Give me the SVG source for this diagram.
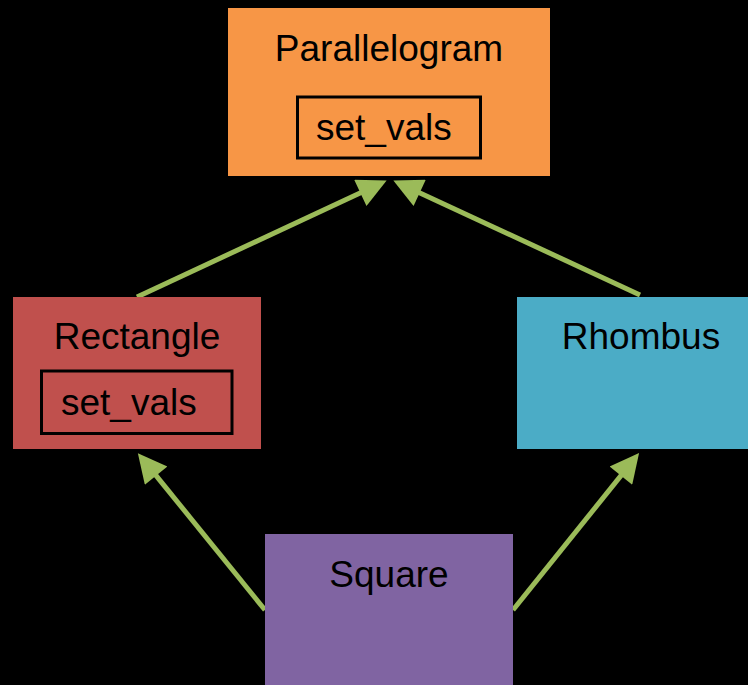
<svg xmlns="http://www.w3.org/2000/svg" width="748" height="685" viewBox="0 0 748 685">
  <style>
    .label { font-family: "Liberation Sans", Arial, sans-serif; font-size: 37px; fill: #000; }
    .member { fill: none; stroke: #000; stroke-width: 3; }
    .edge { fill: none; stroke: #9BBB59; stroke-width: 5; marker-end: url(#head); }
  </style>
  <defs>
    <marker id="head" viewBox="0 0 10 10" refX="5" refY="5" markerWidth="6.4" markerHeight="5.8" orient="auto" markerUnits="strokeWidth">
      <path d="M0,0 L10,5 L0,10 z" fill="#9BBB59"/>
    </marker>
  </defs>
  <rect width="748" height="685" fill="#000"/>

  <!-- inheritance arrows -->
  <g id="connectors">
    <path class="edge" d="M137,297 L373.5,186.7"/>
    <path class="edge" d="M640,295 L406.5,186.7"/>
    <path class="edge" d="M265,610 L147,464.4"/>
    <path class="edge" d="M513,610 L630,464.4"/>
  </g>

  <g id="parallelogram">
    <rect x="228" y="8" width="322" height="168" fill="#F79646"/>
    <text class="label" x="389" y="61" text-anchor="middle">Parallelogram</text>
    <rect class="member" x="297.5" y="97" width="183" height="61"/>
    <text class="label" x="316" y="140">set_vals</text>
  </g>

  <g id="rectangle">
    <rect x="13" y="297" width="248" height="152" fill="#C0504D"/>
    <text class="label" x="137" y="349" text-anchor="middle">Rectangle</text>
    <rect class="member" x="41.5" y="371" width="190.5" height="62.5"/>
    <text class="label" x="61" y="415">set_vals</text>
  </g>

  <g id="rhombus">
    <rect x="517" y="297" width="231" height="152" fill="#4BACC6"/>
    <text class="label" x="641" y="349" text-anchor="middle">Rhombus</text>
  </g>

  <g id="square">
    <rect x="265" y="534" width="248" height="151" fill="#8064A2"/>
    <text class="label" x="389" y="587" text-anchor="middle">Square</text>
  </g>
</svg>
